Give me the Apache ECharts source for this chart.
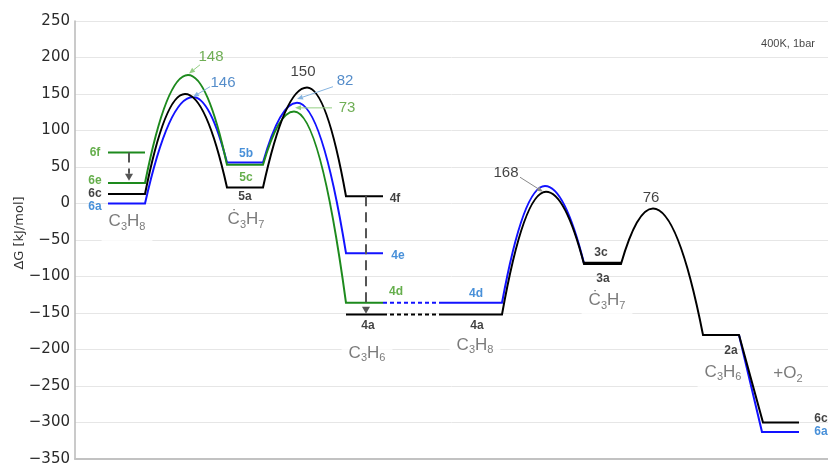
<!DOCTYPE html>
<html>
<head>
<meta charset="utf-8">
<title>ΔG profile</title>
<script src="https://cdn.jsdelivr.net/npm/echarts@6.0.0/dist/echarts.min.js"></script>
<style>
  html, body { margin: 0; padding: 0; background: #ffffff; }
  #chart { width: 828px; height: 465px; }
</style>
</head>
<body>
<div id="chart"></div>
<script>
// Gibbs free-energy profile, 400 K / 1 bar
// x: reaction coordinate (arbitrary units), y: ΔG in kJ/mol

// ---- axes ----
const gMin = -350;
const gMax = 250;
const gStep = 50;
const rcMin = 0;
const rcMax = 753;

// ---- routes: reaction-coordinate nodes, ΔG at each node, 1 marks a transition-state summit ----
// black: 6c -> TS -> 5a -> TS -> 4f
const blackUpperRc = [33, 70, 110, 152, 188, 232, 271, 308];
const blackUpperG  = [13, 13, 150, 22, 22, 159, 10, 10];
const blackUpperTs = [0, 0, 1, 0, 0, 1, 0, 0];
// black: 4a plateau
const black4aRc = [271, 308];
const black4aG  = [-152, -152];
// black: dashed link between the two 4a plateaus
const blackLinkRc = [308, 365];
const blackLinkG  = [-152, -152];
// black: 4a -> TS -> 3a -> TS -> 2a -> 6c
const blackLowerRc = [365, 427, 471, 509, 546, 578, 628, 664, 688, 724];
const blackLowerG  = [-152, -152, 16, -83, -83, -7, -180, -180, -300, -300];
const blackLowerTs = [0, 0, 1, 0, 0, 1, 0, 0, 0, 0];
// black: 3c plateau
const black3cRc = [509, 546];
const black3cG  = [-81, -81];

// blue: 6a -> TS -> 5b -> TS -> 4e
const blueUpperRc = [33, 70, 118, 152, 188, 222, 271, 308];
const blueUpperG  = [0, 0, 146, 56, 56, 138, -68, -68];
const blueUpperTs = [0, 0, 1, 0, 0, 1, 0, 0];
// blue: dashed link to 4d
const blueLinkRc = [308, 365];
const blueLinkG  = [-136, -136];
// blue: 4d -> TS -> 3c
const blueLowerRc = [365, 427, 470, 509];
const blueLowerG  = [-136, -136, 24, -82];
const blueLowerTs = [0, 0, 1, 0];
// blue: 2a -> 6a
const blueEndRc = [664, 687, 724];
const blueEndG  = [-180, -313, -313];

// green: 6f plateau
const green6fRc = [33, 70];
const green6fG  = [70, 70];
// green: 6e -> TS -> 5c -> TS -> 4d
const greenRc = [33, 70, 113, 152, 188, 219, 271, 308];
const greenG  = [28, 28, 176, 53, 53, 126, -136, -136];
const greenTs = [0, 0, 1, 0, 0, 1, 0, 0];

// ---- texts ----
const tagNames = ['6f', '6e', '6c', '6a', '5b', '5c', '5a', '4f', '4e', '4d', '4a', '4d', '4a', '3c', '3a', '2a', '6c', '6a'];
const tagGroup = ['g', 'g', 'k', 'b', 'b', 'g', 'k', 'k', 'b', 'g', 'k', 'b', 'k', 'k', 'k', 'k', 'k', 'b'];
const speciesNames = ['C3H8', 'Ċ3H7', 'C3H6', 'C3H8', 'Ċ3H7', 'C3H6'];
const barrierText  = ['148', '146', '150', '82', '73', '168', '76'];
const barrierGroup = ['g', 'b', 'k', 'b', 'g', 'k', 'k'];
const noteText = ['+O2', '400K, 1bar'];

// ---- text placement, in axis units ----
const tagAt = [[20, 69], [20, 31], [20, 14], [20, -4], [171, 68], [171, 36], [170, 9],
               [320, 6], [323, -72], [321, -121], [293, -168], [401, -123], [402, -167],
               [526, -68], [528, -103], [656, -202], [746, -295], [746, -313]];
const speciesAt = [[52, -29], [171, -26], [292, -209], [400, -198], [532, -137], [648, -235]];
const barrierAt = [[136, 201], [148, 165], [228, 181], [270, 168], [272, 131], [431, 42], [576, 8]];
const noteAt = [[713, -233], [713, 218]];
// leader arrows from a barrier figure towards its summit: [fromRc, fromG, toRc, toG]
const leaderLines = [[125, 190, 114, 178], [135, 160, 118, 146], [258, 160, 222, 143], [257, 131, 220, 131], [445, 36, 468, 16]];
const leaderGroup = ['g', 'b', 'b', 'g', 'k'];
// dashed drops between plateaus
const dropLines = [[54, 70, 54, 31], [291, 10, 291, -151]];

// ---- styling ----
const lineColor = { k: '#000000', b: '#1212ff', g: '#1d8a1d' };
const tagColor = { k: '#111111', b: '#1a74d0', g: '#3e9a1f' };
const figColor = { k: '#111111', b: '#2a70bd', g: '#4b9a2b' };
const leaderColor = { k: '#8a8a8a', b: '#86b4e0', g: '#94cf84' };
const sansFont = 'Liberation Sans, Arial, sans-serif';

// route drawn as a single path; summits are joined with parabolic halves
function routeSeries(rc, g, ts, color, dash, z) {
  return {
    type: 'custom',
    coordinateSystem: 'cartesian2d',
    silent: true,
    z: z,
    data: rc.map((x, i) => [x, g[i], ts ? ts[i] : 0]),
    renderItem(params, api) {
      if (params.dataIndex !== 0) return null;
      const n = rc.length;
      const pts = [];
      for (let j = 0; j < n; j++) {
        pts.push({ p: api.coord([api.value(0, j), api.value(1, j)]), ts: api.value(2, j) });
      }
      let d = 'M' + pts[0].p[0] + ' ' + pts[0].p[1];
      for (let j = 1; j < n; j++) {
        const a = pts[j - 1], b = pts[j];
        const mx = (a.p[0] + b.p[0]) / 2;
        if (b.ts) d += ' Q' + mx + ' ' + b.p[1] + ' ' + b.p[0] + ' ' + b.p[1];
        else if (a.ts) d += ' Q' + mx + ' ' + a.p[1] + ' ' + b.p[0] + ' ' + b.p[1];
        else d += ' L' + b.p[0] + ' ' + b.p[1];
      }
      return {
        type: 'path',
        shape: { pathData: d },
        style: { fill: 'none', stroke: color, lineWidth: 2, lineDash: dash || null, lineJoin: 'miter' }
      };
    }
  };
}

// straight arrow with a filled head
function arrowSeries(lines, colors, width, dash, headLen, headWidth, z) {
  return {
    type: 'custom',
    coordinateSystem: 'cartesian2d',
    silent: true,
    z: z,
    data: lines,
    renderItem(params, api) {
      const a = api.coord([api.value(0), api.value(1)]);
      const b = api.coord([api.value(2), api.value(3)]);
      const dx = b[0] - a[0], dy = b[1] - a[1];
      const len = Math.sqrt(dx * dx + dy * dy);
      const ux = dx / len, uy = dy / len;
      const bx = b[0] - ux * headLen, by = b[1] - uy * headLen;
      const w = headWidth / 2;
      const color = colors[params.dataIndex];
      return {
        type: 'group',
        children: [
          { type: 'line', shape: { x1: a[0], y1: a[1], x2: bx, y2: by },
            style: { stroke: color, lineWidth: width, lineDash: dash || null } },
          { type: 'polygon', shape: { points: [[b[0], b[1]], [bx - uy * w, by + ux * w], [bx + uy * w, by - ux * w]] },
            style: { fill: color } }
        ]
      };
    }
  };
}

// chemical formula with subscript digits as rich text
function formula(s) {
  let out = '', run = '';
  for (const ch of s) {
    if (ch >= '0' && ch <= '9') {
      if (run) { out += '{n|' + run + '}'; run = ''; }
      out += '{s|' + ch + '}';
    } else {
      run += ch;
    }
  }
  if (run) out += '{n|' + run + '}';
  return out;
}

function textSeries(names, at, label, itemLabel, z) {
  return {
    type: 'scatter',
    silent: true,
    z: z,
    symbol: 'circle',
    symbolSize: 1,
    itemStyle: { color: 'rgba(0,0,0,0)' },
    emphasis: { disabled: true },
    data: names.map((n, i) => {
      const item = { name: n, value: at[i] };
      if (itemLabel) item.label = itemLabel(i);
      return item;
    }),
    label: Object.assign({ show: true, position: 'inside', formatter: p => p.name }, label)
  };
}

const formulaRich = {
  n: { fontSize: 17, fontFamily: sansFont, color: '#5a5a5a' },
  s: { fontSize: 11, fontFamily: sansFont, color: '#5a5a5a', padding: [10, 0, 0, 0] }
};

const chart = echarts.init(document.getElementById('chart'), null, { renderer: 'canvas' });

chart.setOption({
  animation: false,
  backgroundColor: '#ffffff',
  grid: { left: 75, right: 0, top: 21, bottom: 6, containLabel: false, outerBoundsMode: 'none' },
  xAxis: {
    type: 'value',
    min: rcMin,
    max: rcMax,
    axisLine: { show: true, onZero: false, lineStyle: { color: '#c2c2c2', width: 2 } },
    axisTick: { show: false },
    axisLabel: { show: false },
    splitLine: { show: false }
  },
  yAxis: {
    type: 'value',
    min: gMin,
    max: gMax,
    interval: gStep,
    name: 'ΔG [kJ/mol]',
    nameLocation: 'middle',
    nameGap: 49,
    nameMoveOverlap: false,
    nameTextStyle: { fontFamily: 'DejaVu Sans', fontSize: 13, color: '#333333', padding: [0, 0, 0, 14] },
    axisLine: { show: true, lineStyle: { color: '#b8b8b8', width: 1.5 } },
    axisTick: { show: false },
    axisLabel: {
      fontFamily: 'DejaVu Sans',
      fontSize: 15,
      color: '#2a2a2a',
      margin: 5,
      formatter: v => String(v).replace('-', '\u2212')
    },
    splitLine: { show: true, lineStyle: { color: '#e6e6e6', width: 1 } }
  },
  series: [
    // species names sit under the curves, their white boxes only mask the grid
    textSeries(speciesNames, speciesAt,
      { formatter: p => formula(p.name), rich: formulaRich, backgroundColor: '#ffffff', padding: [3, 7, 9, 7] },
      null, 1),

    routeSeries(blueUpperRc, blueUpperG, blueUpperTs, lineColor.b, null, 2),
    routeSeries(blueLinkRc, blueLinkG, null, lineColor.b, [4, 3], 2),
    routeSeries(blueLowerRc, blueLowerG, blueLowerTs, lineColor.b, null, 2),
    routeSeries(blueEndRc, blueEndG, null, lineColor.b, null, 2),
    routeSeries(green6fRc, green6fG, null, lineColor.g, null, 3),
    routeSeries(greenRc, greenG, greenTs, lineColor.g, null, 3),
    routeSeries(blackUpperRc, blackUpperG, blackUpperTs, lineColor.k, null, 4),
    routeSeries(black4aRc, black4aG, null, lineColor.k, null, 4),
    routeSeries(blackLinkRc, blackLinkG, null, lineColor.k, [4, 3], 4),
    routeSeries(blackLowerRc, blackLowerG, blackLowerTs, lineColor.k, null, 4),
    routeSeries(black3cRc, black3cG, null, lineColor.k, null, 4),

    arrowSeries(dropLines, ['#555555', '#555555'], 2, [10, 6], 7, 8, 5),
    arrowSeries(leaderLines, leaderGroup.map(k => leaderColor[k]), 1, null, 6, 5, 5),

    textSeries(tagNames, tagAt,
      { fontFamily: sansFont, fontSize: 12, fontWeight: 'bold' },
      i => ({ color: tagColor[tagGroup[i]] }), 6),
    textSeries(barrierText, barrierAt,
      { fontFamily: sansFont, fontSize: 15 },
      i => ({ color: figColor[barrierGroup[i]] }), 6),
    textSeries(noteText.slice(0, 1), noteAt.slice(0, 1),
      { formatter: p => formula(p.name), rich: formulaRich }, null, 6),
    textSeries(noteText.slice(1), noteAt.slice(1),
      { fontFamily: sansFont, fontSize: 11, color: '#111111' }, null, 6)
  ]
});
</script>
</body>
</html>
